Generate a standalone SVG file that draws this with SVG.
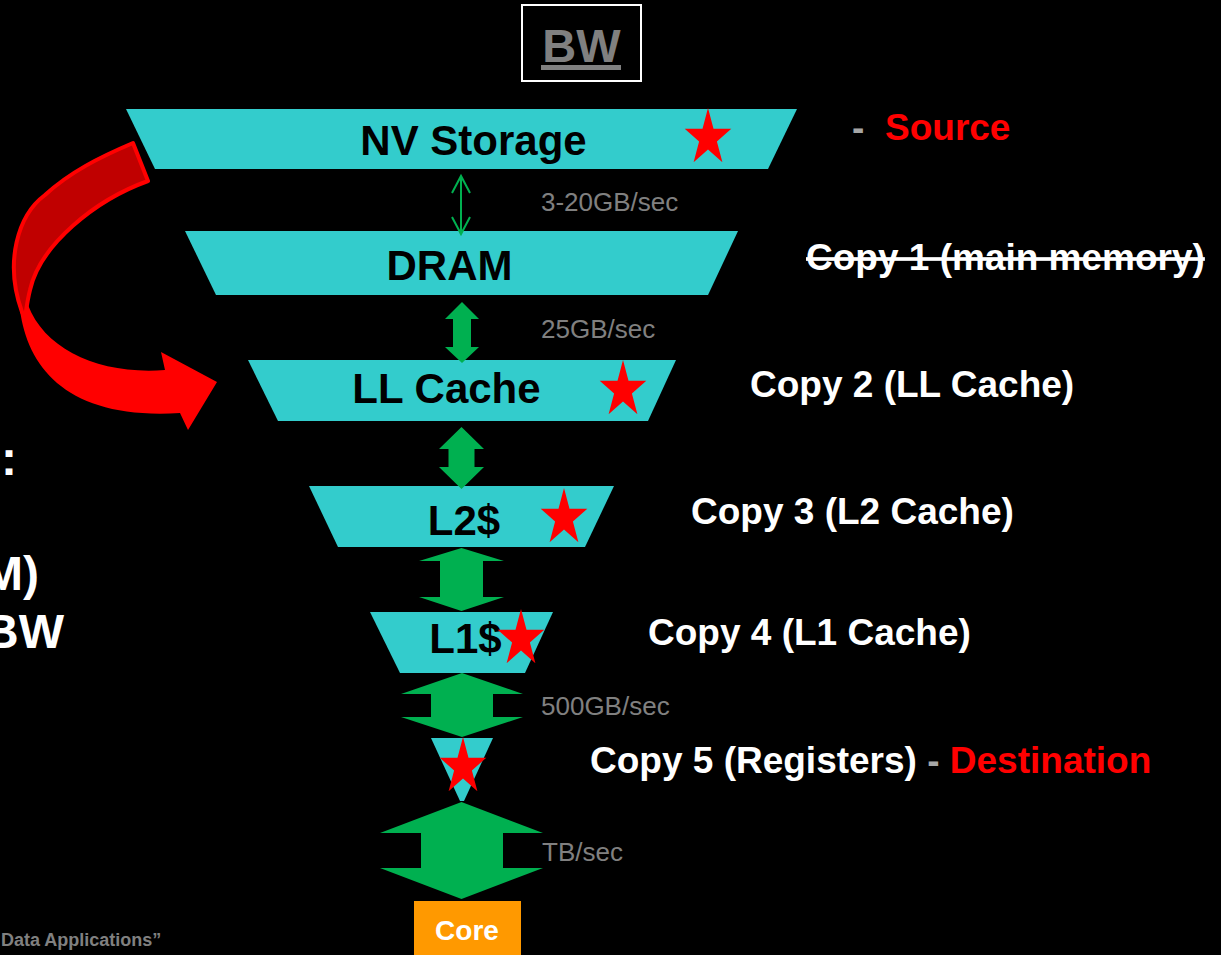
<svg xmlns="http://www.w3.org/2000/svg" xmlns:xlink="http://www.w3.org/1999/xlink" width="1221" height="955" viewBox="0 0 1221 955">
  <style>
    .tier { fill: #33CCCC; }
    .tier-label { font-family: "Liberation Sans", Arial, sans-serif; font-weight: bold; font-size: 42px; fill: #000; text-anchor: middle; }
    .copy { font-family: "Liberation Sans", Arial, sans-serif; font-weight: bold; font-size: 37px; fill: #fff; }
    .red { fill: #FF0000; }
    .dash { fill: #A6A6A6; }
    .rate { font-family: "Liberation Sans", Arial, sans-serif; font-size: 26px; fill: #808080; }
    .side { font-family: "Liberation Sans", Arial, sans-serif; font-weight: bold; font-size: 48px; fill: #fff; text-anchor: end; }
    .flow { fill: #00B050; }
    .star { fill: #FF0000; }
  </style>
  <defs>
    <!-- five-pointed star, slightly taller than wide, centred on its circumcentre -->
    <polygon id="star" points="0,-30 5.5,-9.3 23.3,-9.3 8.9,3.5 14.4,24.3 0,11.5 -14.4,24.3 -8.9,3.5 -23.3,-9.3 -5.5,-9.3"/>
  </defs>

  <rect width="1221" height="955" fill="#000"/>

  <!-- heading -->
  <g id="bw-title">
    <rect x="522" y="5" width="119" height="76" fill="#000" stroke="#fff" stroke-width="2"/>
    <text x="581.5" y="62" text-anchor="middle" font-family="Liberation Sans, Arial, sans-serif" font-weight="bold" font-size="47" fill="#808080">BW</text>
    <rect x="541" y="65" width="80" height="5" fill="#808080"/>
  </g>

  <!-- clipped text at the left edge -->
  <g id="left-notes">
    <text class="side" x="17" y="475">:</text>
    <text class="side" x="39" y="590">M)</text>
    <text class="side" x="64" y="648">BW</text>
    <text x="1" y="946" font-family="Liberation Sans, Arial, sans-serif" font-weight="bold" font-size="18" fill="#808080">Data Applications”</text>
  </g>

  <!-- curved bypass arrow: storage straight into the last-level cache -->
  <g id="bypass-arrow">
    <path d="M20,310 C28,370 70,420 180,413 L188,430 L217,382 L161,352 L165,370 C100,375 45,350 28,305 Z" fill="#FF0000"/>
    <path d="M133,143 L148,181 C95,200 40,245 30,290 C27,302 26,312 25,318 L22,312 C4,262 18,215 45,195 C70,172 100,157 133,143 Z" fill="#C00000" stroke="#FF0000" stroke-width="4" stroke-linejoin="round"/>
  </g>

  <!-- memory hierarchy tiers -->
  <g id="nv-storage">
    <polygon class="tier" points="126,109 797,109 768,169 155,169"/>
    <text class="tier-label" x="473.5" y="155">NV Storage</text>
    <use xlink:href="#star" class="star" transform="translate(708,138)"/>
  </g>
  <g id="dram">
    <polygon class="tier" points="185,231 738,231 708,295 216,295"/>
    <text class="tier-label" x="449.5" y="280">DRAM</text>
  </g>
  <g id="ll-cache">
    <polygon class="tier" points="248,360 676,360 648,421 278,421"/>
    <text class="tier-label" x="446.5" y="403">LL Cache</text>
    <use xlink:href="#star" class="star" transform="translate(623,390)"/>
  </g>
  <g id="l2-cache">
    <polygon class="tier" points="309,486 614,486 585,547 338,547"/>
    <text class="tier-label" x="464" y="535">L2$</text>
    <use xlink:href="#star" class="star" transform="translate(564,518)"/>
  </g>
  <g id="l1-cache">
    <polygon class="tier" points="370,612 553,612 525,673 400,673"/>
    <text class="tier-label" x="465.5" y="653">L1$</text>
    <use xlink:href="#star" class="star" transform="translate(521,639)"/>
  </g>
  <g id="registers">
    <polygon class="tier" points="431,738 493,738 464,801 460,801"/>
    <use xlink:href="#star" class="star" transform="translate(463,767)"/>
  </g>
  <g id="core">
    <rect x="414" y="901" width="107" height="54" fill="#FF9900"/>
    <text x="467" y="940" text-anchor="middle" font-family="Liberation Sans, Arial, sans-serif" font-weight="bold" font-size="28" fill="#fff">Core</text>
  </g>

  <!-- bandwidth links between tiers -->
  <g id="connectors">
    <g fill="none" stroke="#00B050" stroke-width="2">
      <line x1="461" y1="177" x2="461" y2="233"/>
      <polyline points="452,193 461,176 470,193"/>
      <polyline points="452,217 461,234 470,217"/>
    </g>
    <polygon class="flow" points="462,302 479,319 471,319 471,347 479,347 462,363 445,347 453,347 453,319 445,319"/>
    <polygon class="flow" points="461.5,427 484,449 474.5,449 474.5,467 484,467 461.5,489 439,467 448.5,467 448.5,449 439,449"/>
    <polygon class="flow" points="461.5,548 504,561 483,561 483,597 504,597 461.5,611 419,597 440,597 440,561 419,561"/>
    <polygon class="flow" points="462,673 523,694 493,694 493,717 523,717 462,737 401,717 431,717 431,694 401,694"/>
    <polygon class="flow" points="461.5,802 543,833 503,833 503,868 543,868 461.5,899 380,868 421,868 421,833 380,833"/>
  </g>

  <!-- link rates -->
  <g id="rates">
    <text class="rate" x="541" y="211">3-20GB/sec</text>
    <text class="rate" x="541" y="338">25GB/sec</text>
    <text class="rate" x="541" y="715">500GB/sec</text>
    <text class="rate" x="542" y="861">TB/sec</text>
  </g>

  <!-- where each copy of the data lives -->
  <g id="copies">
    <text class="copy" y="140"><tspan class="dash" x="852">-</tspan><tspan class="red" x="885">Source</tspan></text>
    <text class="copy" x="806" y="270" text-decoration="line-through">Copy 1 (main memory)</text>
    <text class="copy" x="750" y="397">Copy 2 (LL Cache)</text>
    <text class="copy" x="691" y="524">Copy 3 (L2 Cache)</text>
    <text class="copy" x="648" y="645">Copy 4 (L1 Cache)</text>
    <text class="copy" x="590" y="773">Copy 5 (Registers)<tspan class="dash"> - </tspan><tspan class="red">Destination</tspan></text>
  </g>
</svg>
